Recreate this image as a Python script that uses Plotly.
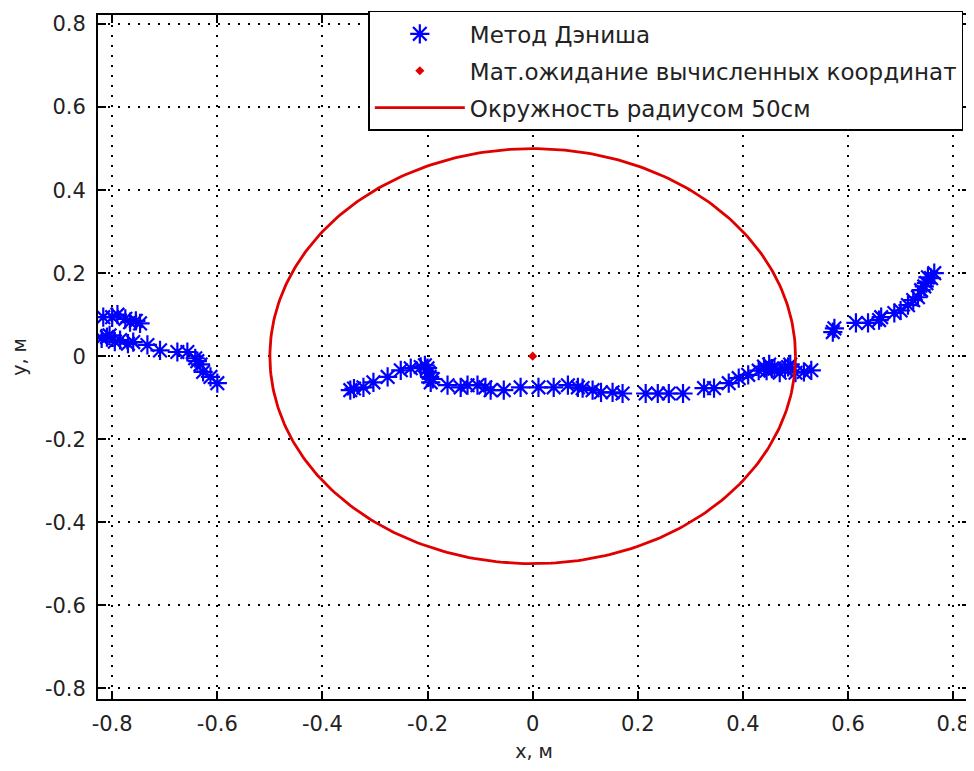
import numpy as np
import plotly.graph_objects as go

# Метод Дэниша — computed coordinates (m)
dennis_x = [-0.82, -0.81, -0.805, -0.817, -0.80, -0.79, -0.775, -0.766, -0.755, -0.747,
            -0.795, -0.785, -0.77, -0.76, -0.733, -0.709,
            -0.676, -0.657, -0.642, -0.638, -0.632, -0.627, -0.613, -0.60,
            -0.347, -0.34, -0.322, -0.303, -0.276, -0.251, -0.232, -0.213, -0.205, -0.20,
            -0.198, -0.196, -0.194, -0.19,
            -0.162, -0.137, -0.124, -0.105, -0.09, -0.08, -0.055, -0.023, 0.011, 0.04,
            0.067, 0.086, 0.095, 0.114, 0.13, 0.152, 0.171, 0.215, 0.238, 0.259, 0.286,
            0.326, 0.345, 0.373, 0.392, 0.41, 0.43, 0.44, 0.445, 0.45, 0.455, 0.46, 0.47,
            0.48, 0.486, 0.49, 0.50, 0.516, 0.53,
            0.571, 0.574, 0.615, 0.638, 0.659, 0.663, 0.688, 0.70, 0.714, 0.724, 0.733,
            0.739, 0.745, 0.749, 0.752, 0.758, 0.764]
dennis_y = [0.043, 0.046, 0.05, 0.094, 0.094, 0.1, 0.09, 0.082, 0.085, 0.079,
            0.035, 0.039, 0.03, 0.034, 0.027, 0.014,
            0.01, 0.01, -0.005, -0.012, -0.02, -0.038, -0.05, -0.065,
            -0.082, -0.078, -0.075, -0.063, -0.05, -0.034, -0.029, -0.026, -0.022, -0.029,
            -0.04, -0.05, -0.063, -0.055,
            -0.07, -0.075, -0.07, -0.07, -0.075, -0.082, -0.082, -0.075, -0.075, -0.075,
            -0.07, -0.075, -0.077, -0.082, -0.087, -0.087, -0.09, -0.09, -0.09, -0.09, -0.09,
            -0.077, -0.077, -0.065, -0.053, -0.045, -0.035, -0.025, -0.035, -0.02, -0.03, -0.03,
            -0.04, -0.03, -0.026, -0.02, -0.04, -0.038, -0.034,
            0.058, 0.067, 0.08, 0.08, 0.087, 0.094, 0.104, 0.11, 0.123, 0.135, 0.142,
            0.159, 0.168, 0.176, 0.19, 0.188, 0.2]

# Мат.ожидание вычисленных координат
mean_x = [0.0]
mean_y = [0.0]

# Окружность радиусом 50см
circle_radius = 0.5
circle_center = (0.0, 0.0)

ticks = [-0.8, -0.6, -0.4, -0.2, 0, 0.2, 0.4, 0.6, 0.8]
tick_labels = ["-0.8", "-0.6", "-0.4", "-0.2", "0", "0.2", "0.4", "0.6", "0.8"]

theta = np.linspace(0, 2 * np.pi, 361)
cx = circle_center[0] + circle_radius * np.cos(theta)
cy = circle_center[1] + circle_radius * np.sin(theta)

FONT = "DejaVu Sans"

fig = go.Figure()
fig.add_trace(go.Scatter(
    x=dennis_x, y=dennis_y, mode="markers", name="Метод Дэниша",
    legendgroup="a",
    marker=dict(symbol="asterisk-open", size=16, color="#0000ff",
                line=dict(color="#0000ff", width=2.2)),
))
fig.add_trace(go.Scatter(
    x=mean_x, y=mean_y, mode="markers", name="Мат.ожидание вычисленных координат",
    legendgroup="b",
    marker=dict(symbol="diamond", size=7, color="#e00000"),
))
fig.add_trace(go.Scatter(
    x=cx, y=cy, mode="lines", name="Окружность радиусом 50см",
    legendgroup="c",
    line=dict(color="#e00000", width=2.8),
))

axis_common = dict(
    tickvals=ticks, ticktext=tick_labels, automargin=False,
    showgrid=True, gridcolor="black", griddash="1.5px,8.5px", gridwidth=1.5,
    zeroline=False, showline=True, linecolor="black", linewidth=1.8,
    mirror="ticks", ticks="inside", ticklen=8, tickcolor="black", tickwidth=1.5,
    tickfont=dict(family=FONT, size=21, color="#222"),
)

fig.update_layout(
    width=966, height=755,
    margin=dict(l=90, r=4, t=7, b=64, autoexpand=False),
    paper_bgcolor="white", plot_bgcolor="white",
    xaxis=dict(range=[-0.827, 0.832], ticklabelstandoff=5,
               title=dict(text="x, м", font=dict(family=FONT, size=19, color="#222"), standoff=10),
               **axis_common),
    yaxis=dict(range=[-0.826, 0.822], ticklabelstandoff=6,
               title=dict(text="у, м", font=dict(family=FONT, size=19, color="#222"), standoff=27),
               **axis_common),
    legend=dict(x=0.31, y=1.006, xanchor="left", yanchor="top",
                bgcolor="white", bordercolor="black", borderwidth=1.5,
                font=dict(family=FONT, size=23, color="#222"),
                itemwidth=90, traceorder="grouped", tracegroupgap=4),
    showlegend=True,
)

fig.write_html("out.html")
